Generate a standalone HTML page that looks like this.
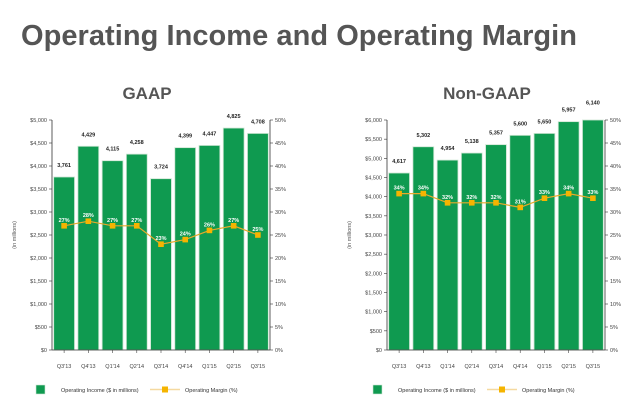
<!DOCTYPE html>
<html><head><meta charset="utf-8"><style>
body{margin:0;background:#fff;width:640px;height:405px;overflow:hidden}
svg{font-family:"Liberation Sans",sans-serif}
</style></head><body>
<svg id="s" width="640" height="405" viewBox="0 0 640 405">
<text x="21" y="45" font-size="29" font-weight="bold" fill="#555" textLength="556">Operating Income and Operating Margin</text>
<text x="147" y="99" font-size="17" font-weight="bold" fill="#555" text-anchor="middle">GAAP</text>
<text x="487" y="99" font-size="17" font-weight="bold" fill="#555" text-anchor="middle">Non-GAAP</text>
</svg>
<script>
const categories=["Q3'13","Q4'13","Q1'14","Q2'14","Q3'14","Q4'14","Q1'15","Q2'15","Q3'15"];
const gaapIncome=[3761,4429,4115,4258,3724,4399,4447,4825,4708];
const gaapMargin=[27,28,27,27,23,24,26,27,25];
const nonGaapIncome=[4617,5302,4954,5138,5357,5600,5650,5957,6140];
const nonGaapMargin=[34,34,32,32,32,31,33,34,33];
const gaapTicks=[0,500,1000,1500,2000,2500,3000,3500,4000,4500,5000];
const nonGaapTicks=[0,500,1000,1500,2000,2500,3000,3500,4000,4500,5000,5500,6000];
const pctTicks=[0,5,10,15,20,25,30,35,40,45,50];
const NS="http://www.w3.org/2000/svg";
const svg=document.getElementById('s');
function mk(tag,attrs,parent){const e=document.createElementNS(NS,tag);for(const k in attrs)e.setAttribute(k,attrs[k]);(parent||svg).appendChild(e);return e;}
function fmt(n){return n.toLocaleString('en-US');}
function chart(prefix,L,R,yMax,ticks,income,margin){
  const T=120,B=350;
  const g=mk('g',{});
  
  
  const y=v=>B-(v/yMax)*(B-T);
  const yp=v=>B-(v/50)*(B-T);
  const step=(R-L)/categories.length;
  const x=i=>L+step*(i+0.5);
  income.forEach((v,i)=>{
    const top=y(Math.min(v,yMax));
    const r=mk('rect',{x:x(i)-step*0.43,y:top,width:step*0.86,height:B-top,fill:'#0f9a50',stroke:'#cfe6d4','stroke-width':0.8},g);
    
    
    const t=mk('text',{x:x(i),y:y(v)-10,'font-size':5.5,'font-weight':'bold','text-anchor':'middle',fill:'#222'},g);
    t.textContent=fmt(v);
    
    
    const c=mk('text',{x:x(i),y:B+18,'font-size':5.5,'text-anchor':'middle',fill:'#444'},g);
    c.textContent=categories[i];
    
    
    mk('line',{x1:x(i),x2:x(i),y1:B,y2:B+3,stroke:'#444','stroke-width':0.6},g);
  });
  mk('line',{x1:L,x2:L,y1:T,y2:B,stroke:'#333','stroke-width':0.8},g);
  mk('line',{x1:R,x2:R,y1:T,y2:B,stroke:'#333','stroke-width':0.8},g);
  mk('line',{x1:L,x2:R,y1:B,y2:B,stroke:'#333','stroke-width':0.8},g);
  ticks.forEach(v=>{
    mk('line',{x1:L-3,x2:L,y1:y(v),y2:y(v),stroke:'#333','stroke-width':0.6},g);
    const t=mk('text',{x:L-5,y:y(v)+2,'font-size':5.5,'text-anchor':'end',fill:'#444'},g);
    t.textContent='$'+fmt(v);
    
    
  });
  pctTicks.forEach(v=>{
    mk('line',{x1:R,x2:R+3,y1:yp(v),y2:yp(v),stroke:'#333','stroke-width':0.6},g);
    const t=mk('text',{x:R+5,y:yp(v)+2,'font-size':5.5,fill:'#444'},g);
    t.textContent=v+'%';
    
    
  });
  const yt=mk('text',{x:0,y:0,'font-size':5.5,'text-anchor':'middle',fill:'#555',transform:`translate(${L-36},${(T+B)/2}) rotate(-90)`},g);
  yt.textContent='(in millions)';
  
  
  const pl=mk('polyline',{points:margin.map((v,i)=>x(i)+','+yp(v)).join(' '),fill:'none',stroke:'#e8a92b','stroke-width':1.2},g);
  
  
  margin.forEach((v,i)=>{
    const m=mk('rect',{x:x(i)-2.8,y:yp(v)-2.8,width:5.6,height:5.6,fill:'#f5b400'},g);
    
    
    const t=mk('text',{x:x(i),y:yp(v)-4,'font-size':5.5,'font-weight':'bold','text-anchor':'middle',fill:'#fff'},g);
    t.textContent=v+'%';
    
    
  });
}
chart('gaap',52,270,5000,gaapTicks,gaapIncome,gaapMargin);
chart('nongaap',387,605,6000,nonGaapTicks,nonGaapIncome,nonGaapMargin);
function legend(prefix,x0){
  const s=mk('rect',{x:x0,y:385,width:9,height:9,fill:'#0f9a50',stroke:'#cfe6d4','stroke-width':0.6});
  
  
  const t1=mk('text',{x:x0+25,y:392,'font-size':5.5,fill:'#333'});
  t1.textContent='Operating Income ($ in millions)';
  
  
  mk('line',{x1:x0+114,x2:x0+144,y1:389.5,y2:389.5,stroke:'#f5d9a0','stroke-width':1.5});
  const m=mk('rect',{x:x0+126,y:386.5,width:6,height:6,fill:'#f5b400'});
  
  
  const t2=mk('text',{x:x0+149,y:392,'font-size':5.5,fill:'#333'});
  t2.textContent='Operating Margin (%)';
  
  
}
legend('gaap',36);
legend('nongaap',373);
</script>
</body></html>
